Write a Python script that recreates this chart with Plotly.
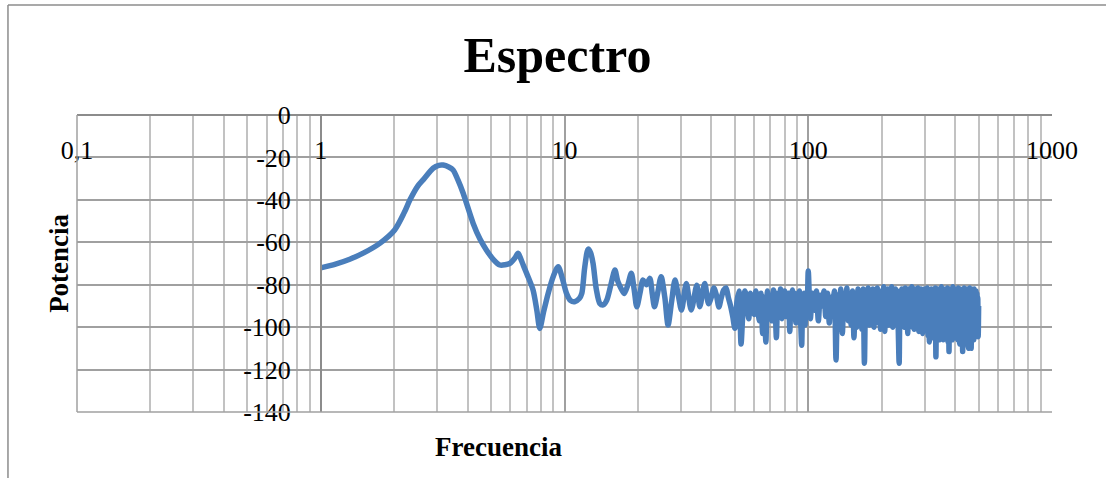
"""Espectro – power spectrum on a log frequency axis, Excel-style look."""
import plotly.graph_objects as go

# ── Data ─────────────────────────────────────────────────────────────────────
# smooth low-frequency part
freq_low = [
    1.0, 1.15, 1.315, 1.5, 1.746, 2.01, 2.2, 2.32, 2.5, 2.63,
    2.89, 3.05, 3.18, 3.35, 3.49, 3.65, 3.84, 4.22, 4.5, 4.78,
    5.1, 5.43, 5.7, 5.97, 6.25, 6.45, 6.6, 6.77, 7.1, 7.43,
    7.7, 7.92, 8.2, 8.57, 9.0, 9.42, 9.8, 10.19, 10.6, 11.0,
    11.5, 11.78, 12.1, 12.5, 12.8, 13.1, 13.5, 13.96, 14.4, 14.9,
    15.5, 16.1, 16.5, 16.8, 17.2, 17.6, 18.2, 18.8, 19.3, 19.8,
    20.4, 21.0, 21.7, 22.4, 22.9, 23.4, 24.1, 24.9, 25.8, 26.6,
    27.5, 28.4, 29.3, 30.2, 31.6, 33.1, 34.9, 35.9, 37.6, 39.0,
]
pot_low = [
    -72.1, -70.3, -68.0, -65.0, -60.5, -54.2, -46, -40.1, -33.5, -30.6,
    -25.1, -23.7, -23.6, -24.5, -25.9, -30.5, -36.9, -51.1, -58.5, -63.6,
    -68, -70.7, -70.6, -69.9, -67.5, -65.2, -67.5, -70.7, -76.5, -82.5,
    -92, -100.6, -93, -84.1, -76, -71.5, -77, -84.1, -87.5, -88.0,
    -86.5, -84, -72, -63.2, -65, -70, -82, -88.8, -89.5, -87.3,
    -80, -73.1, -78, -80.2, -82.5, -84.1, -80, -74.6, -82, -90.4,
    -84, -77.8, -80, -77.0, -84, -90.4, -84, -76.2, -86, -99.0,
    -88, -77.8, -85, -91.9, -79.4, -91.9, -80.2, -90.4, -79.4, -89,
]

# 40 .. 100
freq_mid = [
    40, 41, 42, 43, 44, 45, 46, 47, 48, 49,
    50, 51, 52, 53, 54, 55, 56, 57, 58, 59,
    60, 61, 62, 63, 64, 65, 66, 67, 68, 69,
    70, 71, 72, 73, 74, 75, 76, 77, 78, 79,
    80, 81, 82, 83, 84, 85, 86, 87, 88, 89,
    90, 91, 92, 93, 94, 95, 96, 97, 98, 99,
    100,
]
pot_mid = [
    -86, -81.5, -85, -90.5, -86, -82.5, -81.5, -86, -90, -95,
    -100.5, -88, -83, -108, -92, -83, -88, -96, -84, -87,
    -94, -83, -90, -97, -84, -103, -86, -107, -83, -92,
    -86, -97, -82.5, -88, -105, -84, -93, -82, -96, -87,
    -83, -95, -88, -84, -102, -86, -82.5, -94, -84, -98,
    -85, -90, -83, -96, -108.5, -87, -84, -99, -85, -93,
    -73.5,
]

# 102 .. 500 (dense noisy band)
freq_high = [
    102, 104, 106, 108, 110, 112, 114, 116, 118, 120,
    122, 124, 126, 128, 130, 132, 134, 136, 138, 140,
    142, 144, 146, 148, 150, 152, 154, 156, 158, 160,
    162, 164, 166, 168, 170, 172, 174, 176, 178, 180,
    182, 184, 186, 188, 190, 192, 194, 196, 198, 200,
    202, 204, 206, 208, 210, 212, 214, 216, 218, 220,
    222, 224, 226, 228, 230, 232, 234, 236, 238, 240,
    242, 244, 246, 248, 250, 252, 254, 256, 258, 260,
    262, 264, 266, 268, 270, 272, 274, 276, 278, 280,
    282, 284, 286, 288, 290, 292, 294, 296, 298, 300,
    302, 304, 306, 308, 310, 312, 314, 316, 318, 320,
    322, 324, 326, 328, 330, 332, 334, 336, 338, 340,
    342, 344, 346, 348, 350, 352, 354, 356, 358, 360,
    362, 364, 366, 368, 370, 372, 374, 376, 378, 380,
    382, 384, 386, 388, 390, 392, 394, 396, 398, 400,
    402, 404, 406, 408, 410, 412, 414, 416, 418, 420,
    422, 424, 426, 428, 430, 432, 434, 436, 438, 440,
    442, 444, 446, 448, 450, 452, 454, 456, 458, 460,
    462, 464, 466, 468, 470, 472, 474, 476, 478, 480,
    482, 484, 486, 488, 490, 492, 494, 496, 498, 500,
]
pot_high = [
    -96, -84, -92, -83, -97, -85, -90, -83, -95, -84,
    -98, -86, -91, -83, -115.5, -85, -94, -82, -103, -84,
    -96, -81.5, -97, -85, -99, -83, -105, -84, -100, -82,
    -96, -85, -101, -82, -117, -86, -95, -81.5, -99, -84,
    -97, -82, -100, -86, -94, -81.5, -98, -84, -101, -83,
    -96, -81, -102, -85, -97, -82, -99, -84, -96, -81,
    -100, -85, -98, -82, -97, -84, -101, -117, -83, -99,
    -82, -96, -85, -100, -81.5, -97, -84, -103, -82, -99,
    -85, -97, -81, -100, -84, -101, -82, -96, -85, -99,
    -81.5, -102, -84, -98, -82, -100, -103, -85, -97, -82,
    -101, -84, -99, -81.5, -104, -85, -107, -83, -100, -82,
    -102, -85, -105, -83, -101, -81.5, -114, -84, -103, -82,
    -100, -85, -106, -83, -102, -81, -104, -84, -106, -82,
    -101, -85, -105, -83, -102, -81.5, -107, -84, -111.5, -82,
    -104, -85, -102, -83, -106, -81, -103, -84, -105, -82,
    -101, -85, -104, -83, -106, -81.5, -102, -84, -108, -82,
    -104, -85, -103, -83, -111.5, -84, -106, -81.5, -103, -85,
    -108, -83, -104, -82, -107, -84, -110, -83, -105, -81.5,
    -103, -84, -110, -82, -105, -85, -103, -83, -106, -82,
    -104, -85, -103, -83, -102, -84, -104, -86, -104.5, -90,
]

x_tickvals = [0.1, 1, 10, 100, 1000]
x_ticktext = ["0,1", "1", "10", "100", "1000"]
x_minorvals = [m * d for d in (0.1, 1, 10, 100) for m in range(2, 10)]
y_tickvals = [0, -20, -40, -60, -80, -100, -120, -140]
y_ticktext = ["0", "-20", "-40", "-60", "-80", "-100", "-120", "-140"]

# ── Design tokens ────────────────────────────────────────────────────────────
_LINE = "#4a7ebb"
_GRID = "#a0a0a0"
_GRID_MINOR = "#c2c2c2"
_AXIS = "#8c8c8c"
_FONT = "Liberation Serif"

frequencies = freq_low + freq_mid + freq_high
potencia = pot_low + pot_mid + pot_high

fig = go.Figure(
    go.Scatter(
        x=frequencies,
        y=potencia,
        mode="lines",
        line=dict(color=_LINE, width=5.5, shape="spline", smoothing=0.8),
        hoverinfo="skip",
    )
)

fig.update_layout(
    width=1106,
    height=478,
    paper_bgcolor="white",
    plot_bgcolor="white",
    showlegend=False,
    margin=dict(l=77, r=54, t=115, b=66),
    font=dict(family=_FONT, size=26, color="black"),
    title=dict(
        text="<b>Espectro</b>",
        font=dict(family=_FONT, size=50, color="black"),
        x=0.504, xanchor="center",
        y=0.885, yanchor="middle",
    ),
    xaxis=dict(
        type="log",
        range=[-1, 3],
        anchor="free",
        position=1,
        side="bottom",
        automargin=False,
        tickvals=x_tickvals,
        ticktext=x_ticktext,
        ticks="",
        ticklabelstandoff=12,
        showline=True,
        linecolor=_AXIS,
        linewidth=1.5,
        showgrid=True,
        gridcolor=_GRID,
        gridwidth=1.5,
        zeroline=False,
        minor=dict(tickvals=x_minorvals, showgrid=True,
                   gridcolor=_GRID_MINOR, gridwidth=1.5),
    ),
    yaxis=dict(
        range=[-140, 0],
        anchor="free",
        position=0.25,
        automargin=False,
        tickvals=y_tickvals,
        ticktext=y_ticktext,
        ticks="",
        ticklabelstandoff=24,
        showline=True,
        linecolor=_AXIS,
        linewidth=1.5,
        showgrid=True,
        gridcolor=_GRID,
        gridwidth=1.5,
        zeroline=False,
    ),
    annotations=[
        dict(text="<b>Frecuencia</b>", xref="paper", yref="paper",
             x=0.4318, y=-0.118, xanchor="center", yanchor="middle",
             showarrow=False,
             font=dict(family=_FONT, size=27, color="black")),
        dict(text="<b>Potencia</b>", xref="paper", yref="paper",
             x=-0.0185, y=0.502, xanchor="center", yanchor="middle",
             textangle=-90, showarrow=False,
             font=dict(family=_FONT, size=27, color="black")),
    ],
    shapes=[
        # outer chart frame (left + top)
        dict(type="line", xref="paper", yref="paper",
             x0=-0.0708, x1=-0.0708, y0=1.3704, y1=-0.25,
             line=dict(color=_AXIS, width=1.5)),
        dict(type="line", xref="paper", yref="paper",
             x0=-0.0708, x1=1.06, y0=1.3704, y1=1.3704,
             line=dict(color=_AXIS, width=1.5)),
        # plot-area edges at 0,1 and -140
        dict(type="line", xref="paper", yref="paper",
             x0=0, x1=0, y0=0, y1=1,
             line=dict(color=_GRID, width=1.5)),
        dict(type="line", xref="paper", yref="paper",
             x0=0, x1=1, y0=0, y1=0,
             line=dict(color=_GRID, width=1.5)),
    ],
)

# page body has a default 8px margin; drop it so the figure sits at 0,0
fig.write_html(
    "out.html",
    config={"displayModeBar": False},
    post_script="document.body.style.margin='0';",
)
